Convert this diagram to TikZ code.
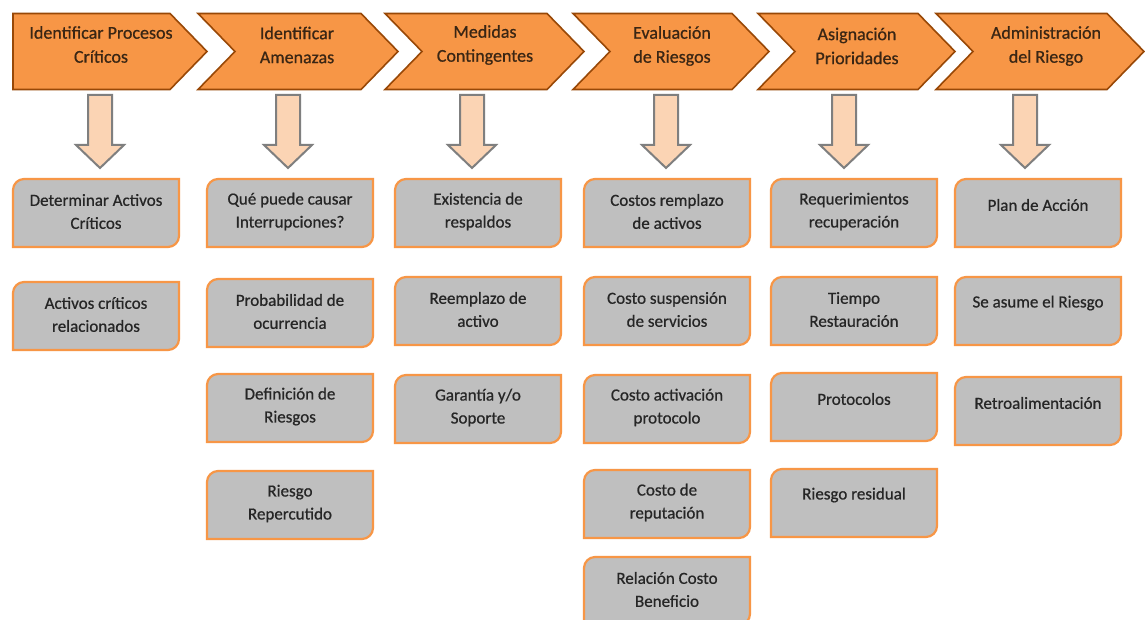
\documentclass[tikz,border=0pt]{standalone}
\usepackage{fontspec}
\setmainfont{Carlito}
\newfontfamily\heavyfont[FakeBold=0.7]{Carlito}
\definecolor{chfill}{HTML}{F79646}
\definecolor{chline}{HTML}{984807}
\definecolor{chtext}{HTML}{3A2614}
\definecolor{arfill}{HTML}{FBD4B4}
\definecolor{arline}{HTML}{7F7F7F}
\definecolor{bxfill}{HTML}{BFBFBF}
\definecolor{bxline}{HTML}{F79646}
\definecolor{bxtext}{HTML}{262626}
\tikzset{
 chev/.style={fill=chfill, draw=chline, line width=1.6pt, line join=miter},
 chtxt/.style={text=chtext, font=\heavyfont\fontsize{18}{24}\selectfont, align=center, inner sep=0pt},
 darrow/.style={fill=arfill, draw=arline, line width=2pt, line join=miter},
 bxshape/.style={fill=bxfill, draw=bxline, line width=2.2pt},
 bxtxt/.style={text=bxtext, font=\heavyfont\fontsize{17}{23}\selectfont, align=center, inner sep=0pt},
}
\newcommand\mychev[2]{%
 \path[chev] (#1,13.5) -- (#1+#2-37,13.5) -- (#1+#2,51.5) -- (#1+#2-37,89.5) -- (#1,89.5) -- (#1+37,51.5) -- cycle;}
\newcommand\dnarrow[1]{%
 \path[darrow] (#1-12,95) -- (#1+12,95) -- (#1+12,145) -- (#1+24,145) -- (#1,168) -- (#1-24,145) -- (#1-12,145) -- cycle;}
\newcommand\obox[5]{%
 \path[bxshape] (#2,#3+11) .. controls (#2,#3+5) and (#2+5,#3) .. (#2+11,#3) -- (#2+166,#3) -- (#2+166,#3+57) .. controls (#2+166,#3+63) and (#2+161,#3+68) .. (#2+155,#3+68) -- (#2,#3+68) -- cycle;
 \node[bxtxt] (#1) at (#2+83,#3+#4) {#5};}
\begin{document}
\begin{tikzpicture}[x=1pt,y=-1pt]
\useasboundingbox (0,0) rectangle (1145,620);
\fill[white] (0,0) rectangle (1145,620);
% chevrons
\path[chev] (13,13.5) -- (170,13.5) -- (207,51.5) -- (170,89.5) -- (13,89.5) -- cycle;
\mychev{198}{200}
\mychev{385}{199}
\mychev{573}{196}
\mychev{758}{197}
\mychev{936}{208}
\node[chtxt] (c1) at (101,44.5) {Identificar Procesos\\Críticos};
\node[chtxt] (c2) at (297,45) {Identificar\\Amenazas};
\node[chtxt] (c3) at (485,45) {Medidas\\Contingentes};
\node[chtxt] (c4) at (672,46) {Evaluación\\de Riesgos};
\node[chtxt] (c5) at (857,46) {Asignación\\Prioridades};
\node[chtxt] (c6) at (1046,46) {Administración\\del Riesgo};
% down arrows
\dnarrow{100}
\dnarrow{288}
\dnarrow{472}
\dnarrow{666}
\dnarrow{844}
\dnarrow{1025}
% column 1
\obox{b11}{13}{179}{32.5}{Determinar Activos\\Críticos}
\obox{b12}{13}{282}{32.5}{Activos críticos\\relacionados}
% column 2
\obox{b21}{207}{179}{32.5}{Qué puede causar\\Interrupciones?}
\obox{b22}{207}{279}{32.5}{Probabilidad de\\ocurrencia}
\obox{b23}{207}{374}{32.5}{Definición de\\Riesgos}
\obox{b24}{207}{471}{32.5}{Riesgo\\Repercutido}
% column 3
\obox{b31}{395}{179}{32.5}{Existencia de\\respaldos}
\obox{b32}{395}{277}{32.5}{Reemplazo de\\activo}
\obox{b33}{395}{375}{32.5}{Garantía y/o\\Soporte}
% column 4
\obox{b41}{584}{179}{32.5}{Costos remplazo\\de activos}
\obox{b42}{584}{277}{32.5}{Costo suspensión\\de servicios}
\obox{b43}{584}{375}{32.5}{Costo activación\\protocolo}
\obox{b44}{584}{470}{32.5}{Costo de\\reputación}
\obox{b45}{584}{557}{32.5}{Relación Costo\\Beneficio}
% column 5
\obox{b51}{771}{179}{32.5}{Requerimientos\\recuperación}
\obox{b52}{771}{277}{32.5}{Tiempo\\Restauración}
\obox{b53}{771}{373}{26}{Protocolos}
\obox{b54}{771}{469}{26}{Riesgo residual}
% column 6
\obox{b61}{955}{179}{26}{Plan de Acción}
\obox{b62}{955}{277}{26}{Se asume el Riesgo}
\obox{b63}{955}{377}{26}{Retroalimentación}
\end{tikzpicture}
\end{document}
